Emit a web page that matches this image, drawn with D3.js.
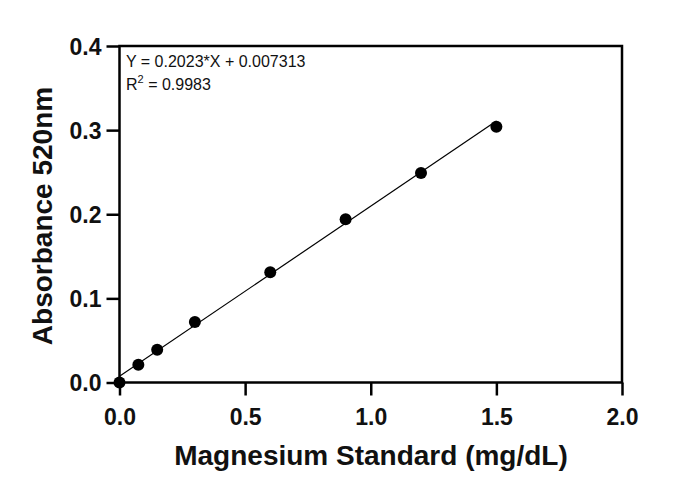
<!DOCTYPE html>
<html><head><meta charset="utf-8">
<script src="https://cdn.jsdelivr.net/npm/d3@7"></script>
<style>body{margin:0;background:#fff}svg{display:block}</style>
</head><body><svg id="c" width="700" height="496"></svg>
<script>
const concentrations = [0, 0.075, 0.15, 0.3, 0.6, 0.9, 1.2, 1.5];
const absorbance = [0.0, 0.021, 0.039, 0.072, 0.131, 0.194, 0.249, 0.304];
const xTicks = [0, 0.5, 1.0, 1.5, 2.0];
const yTicks = [0, 0.1, 0.2, 0.3, 0.4];
const slope = 0.2023, intercept = 0.007313;
const fitRange = [0, 1.5];

const svg = d3.select("#c");
const L = 119.5, R = 622, T = 46, B = 382.5;
const x = d3.scaleLinear().domain([0, 2]).range([L, R]);
const y = d3.scaleLinear().domain([0, 0.4]).range([B, T]);
const font = "Liberation Sans, Arial, sans-serif";

const xa = svg.append("g").attr("transform", `translate(0,${B})`)
  .call(d3.axisBottom(x).tickValues(xTicks).tickFormat(d3.format(".1f")).tickSize(13).tickPadding(13));
const ya = svg.append("g").attr("transform", `translate(${L},0)`)
  .call(d3.axisLeft(y).tickValues(yTicks).tickFormat(d3.format(".1f")).tickSize(13).tickPadding(5));
[xa, ya].forEach(a => {
  a.select(".domain").remove();
  a.attr("font-size", null).attr("font-family", null);
  a.selectAll("line").attr("stroke", "#000").attr("stroke-width", 2.5);
  a.selectAll("text").attr("font-family", font).style("font-size", "23px").attr("font-weight", "bold").attr("fill", "#111");
});
ya.selectAll("text").attr("dy", "0.36em");

svg.append("rect").attr("x", L).attr("y", T).attr("width", R - L).attr("height", B - T)
  .attr("fill", "none").attr("stroke", "#000").attr("stroke-width", 2.5);

svg.append("line")
  .attr("x1", x(fitRange[0])).attr("y1", y(slope * fitRange[0] + intercept))
  .attr("x2", x(fitRange[1])).attr("y2", y(slope * fitRange[1] + intercept))
  .attr("stroke", "#000").attr("stroke-width", 1.2);

svg.selectAll("circle.pt").data(concentrations).enter().append("circle")
  .attr("class", "pt")
  .attr("cx", d => x(d)).attr("cy", (d, i) => y(absorbance[i])).attr("r", 6).attr("fill", "#000");

svg.append("text").attr("x", 126).attr("y", 67).attr("font-family", font).style("font-size", "16px").attr("fill", "#111")
  .text("Y = 0.2023*X + 0.007313");
const r2 = svg.append("text").attr("x", 126).attr("y", 90).attr("font-family", font).style("font-size", "16px").attr("fill", "#111");
r2.append("tspan").text("R");
r2.append("tspan").style("font-size", "11px").attr("dy", -7).text("2");
r2.append("tspan").attr("dy", 7).text(" = 0.9983");

svg.append("text").attr("x", (175 + 567) / 2).attr("y", 465).attr("text-anchor", "middle")
  .attr("font-family", font).style("font-size", "28px").attr("font-weight", "bold").attr("fill", "#111")
  .text("Magnesium Standard (mg/dL)");
svg.append("text").attr("transform", "translate(52,216) rotate(-90)").attr("text-anchor", "middle")
  .attr("font-family", font).style("font-size", "28px").attr("font-weight", "bold").attr("fill", "#111")
  .text("Absorbance 520nm");
</script></body></html>
